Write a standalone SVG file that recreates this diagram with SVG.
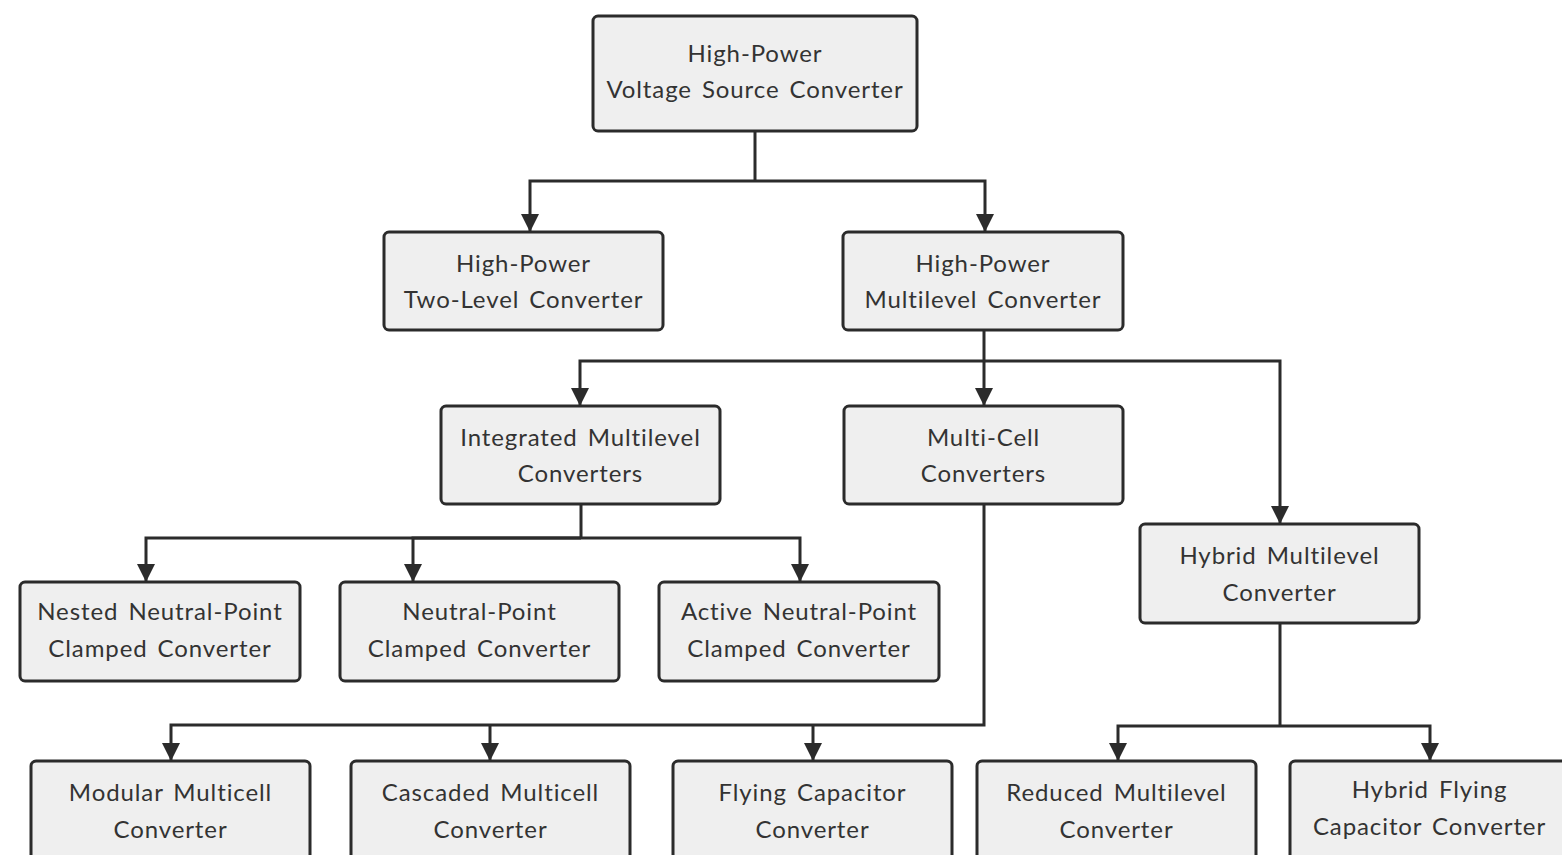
<svg xmlns="http://www.w3.org/2000/svg" width="1562" height="855" viewBox="0 0 1562 855">
  <style>
    .box { fill: #efefef; stroke: #2b2b2b; stroke-width: 3; }
    .lbl { font-family: Lato, "Liberation Sans", sans-serif; font-size: 24px; letter-spacing: 0.9px; word-spacing: 3px; fill: #333333; text-anchor: middle; }
    .wire { fill: none; stroke: #2b2b2b; stroke-width: 3; }
  </style>
  <defs>
    <marker id="arrow" markerUnits="userSpaceOnUse" markerWidth="18" markerHeight="20" refX="17" refY="9" orient="auto">
      <path d="M0,0 L18,9 L0,18 Z" fill="#2b2b2b"/>
    </marker>
  </defs>
  <rect width="1562" height="855" fill="#ffffff"/>

  <g id="connectors">
    <path class="wire" d="M755,131 V181"/>
    <path class="wire" d="M755,181 H530 V231" marker-end="url(#arrow)"/>
    <path class="wire" d="M755,181 H985 V231" marker-end="url(#arrow)"/>

    <path class="wire" d="M984,330 V361"/>
    <path class="wire" d="M984,361 H580 V405" marker-end="url(#arrow)"/>
    <path class="wire" d="M984,361 V405" marker-end="url(#arrow)"/>
    <path class="wire" d="M984,361 H1280 V523" marker-end="url(#arrow)"/>

    <path class="wire" d="M581,504 V538"/>
    <path class="wire" d="M581,538 H146 V581" marker-end="url(#arrow)"/>
    <path class="wire" d="M581,538 H413 V581" marker-end="url(#arrow)"/>
    <path class="wire" d="M581,538 H800 V581" marker-end="url(#arrow)"/>

    <path class="wire" d="M984,504 V725 H171 V760" marker-end="url(#arrow)"/>
    <path class="wire" d="M490,725 V760" marker-end="url(#arrow)"/>
    <path class="wire" d="M813,725 V760" marker-end="url(#arrow)"/>

    <path class="wire" d="M1280,623 V726"/>
    <path class="wire" d="M1280,726 H1118 V760" marker-end="url(#arrow)"/>
    <path class="wire" d="M1280,726 H1430 V760" marker-end="url(#arrow)"/>
  </g>

  <g id="vsc">
    <rect class="box" x="593" y="16" width="324" height="115" rx="5"/>
    <text class="lbl" x="755" y="62">High-Power</text>
    <text class="lbl" x="755" y="98">Voltage Source Converter</text>
  </g>
  <g id="two-level">
    <rect class="box" x="384" y="232" width="279" height="98" rx="5"/>
    <text class="lbl" x="523.5" y="272">High-Power</text>
    <text class="lbl" x="523.5" y="308">Two-Level Converter</text>
  </g>
  <g id="multilevel">
    <rect class="box" x="843" y="232" width="280" height="98" rx="5"/>
    <text class="lbl" x="983" y="272">High-Power</text>
    <text class="lbl" x="983" y="308">Multilevel Converter</text>
  </g>
  <g id="integrated">
    <rect class="box" x="441" y="406" width="279" height="98" rx="5"/>
    <text class="lbl" x="580.5" y="446">Integrated Multilevel</text>
    <text class="lbl" x="580.5" y="482">Converters</text>
  </g>
  <g id="multi-cell">
    <rect class="box" x="844" y="406" width="279" height="98" rx="5"/>
    <text class="lbl" x="983.5" y="446">Multi-Cell</text>
    <text class="lbl" x="983.5" y="482">Converters</text>
  </g>
  <g id="hybrid">
    <rect class="box" x="1140" y="524" width="279" height="99" rx="5"/>
    <text class="lbl" x="1279.5" y="564">Hybrid Multilevel</text>
    <text class="lbl" x="1279.5" y="601">Converter</text>
  </g>
  <g id="nnpc">
    <rect class="box" x="20" y="582" width="280" height="99" rx="5"/>
    <text class="lbl" x="160" y="620">Nested Neutral-Point</text>
    <text class="lbl" x="160" y="657">Clamped Converter</text>
  </g>
  <g id="npc">
    <rect class="box" x="340" y="582" width="279" height="99" rx="5"/>
    <text class="lbl" x="479.5" y="620">Neutral-Point</text>
    <text class="lbl" x="479.5" y="657">Clamped Converter</text>
  </g>
  <g id="anpc">
    <rect class="box" x="659" y="582" width="280" height="99" rx="5"/>
    <text class="lbl" x="799" y="620">Active Neutral-Point</text>
    <text class="lbl" x="799" y="657">Clamped Converter</text>
  </g>
  <g id="mmc">
    <rect class="box" x="31" y="761" width="279" height="110" rx="5"/>
    <text class="lbl" x="170.5" y="801">Modular Multicell</text>
    <text class="lbl" x="170.5" y="838">Converter</text>
  </g>
  <g id="cmc">
    <rect class="box" x="351" y="761" width="279" height="110" rx="5"/>
    <text class="lbl" x="490.5" y="801">Cascaded Multicell</text>
    <text class="lbl" x="490.5" y="838">Converter</text>
  </g>
  <g id="fcc">
    <rect class="box" x="673" y="761" width="279" height="110" rx="5"/>
    <text class="lbl" x="812.5" y="801">Flying Capacitor</text>
    <text class="lbl" x="812.5" y="838">Converter</text>
  </g>
  <g id="rmc">
    <rect class="box" x="977" y="761" width="279" height="110" rx="5"/>
    <text class="lbl" x="1116.5" y="801">Reduced Multilevel</text>
    <text class="lbl" x="1116.5" y="838">Converter</text>
  </g>
  <g id="hfcc">
    <rect class="box" x="1290" y="761" width="279" height="110" rx="5"/>
    <text class="lbl" x="1429.5" y="798">Hybrid Flying</text>
    <text class="lbl" x="1429.5" y="835">Capacitor Converter</text>
  </g>
</svg>
